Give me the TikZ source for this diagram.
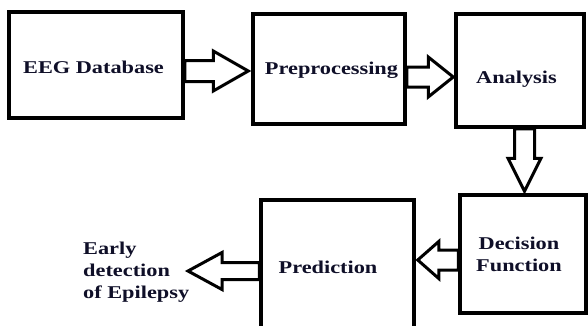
\documentclass[tikz,border=0pt]{standalone}
\usepackage{fontspec}
\usetikzlibrary{calc}
\newfontfamily\lblfont{Liberation Serif}[FakeStretch=1.24]
\definecolor{inkblue}{RGB}{15,15,40}

% block arrow outline: tail, tip, shaft half-width, head half-width, head length
\newcommand\blockarrow[5]{%
  \coordinate (ba-h) at ($(#2)!#5!(#1)$);
  \draw[blockarrowline]
    ($(#1)!#3!90:(#2)$) -- ($(ba-h)!#3!90:(#2)$) -- ($(ba-h)!#4!90:(#2)$) --
    (#2) --
    ($(ba-h)!#4!-90:(#2)$) -- ($(ba-h)!#3!-90:(#2)$) -- ($(#1)!#3!-90:(#2)$) -- cycle;}

\tikzset{
  stagebox/.style={draw=black, line width=3.5pt, inner sep=0pt, fill=white},
  blockarrowline/.style={draw=black, line width=3pt, fill=white, line join=miter},
  lbl/.style={font=\lblfont\bfseries\fontsize{18}{22}\selectfont, text=inkblue, inner sep=0pt},
}

\begin{document}
\begin{tikzpicture}[x=1pt, y=-1pt]
  \clip (0,0) rectangle (588,325);
  \fill[white] (0,0) rectangle (588,325);

  % processing stages
  \node[stagebox, minimum width=174pt, minimum height=106pt] (eeg)  at (96,65)    {};
  \node[stagebox, minimum width=152pt, minimum height=110pt] (pre)  at (329,69)   {};
  \node[stagebox, minimum width=128pt, minimum height=113pt] (ana)  at (520,70.5) {};
  \node[stagebox, minimum width=126pt, minimum height=118pt] (dec)  at (523,254)  {};
  \node[stagebox, minimum width=153pt, minimum height=132pt] (pred) at (337.5,266) {};

  % connector end points
  \coordinate (a1s) at ($(eeg.east)+(0,6)$);
  \coordinate (a1e) at ($(a1s -| pre.west)+(-3,0)$);
  \coordinate (a2s) at ($(pre.east)+(0,8)$);
  \coordinate (a2e) at ($(a2s -| ana.west)+(-1,0)$);
  \coordinate (a3s) at ($(ana.south)+(4.5,0)$);
  \coordinate (a3e) at ($(a3s |- dec.north)+(0,-2)$);
  \coordinate (a4s) at ($(dec.west)+(0,6)$);
  \coordinate (a4e) at ($(a4s -| pred.east)+(2,0)$);
  \coordinate (a5s) at ($(pred.west)+(0,5)$);
  \coordinate (a5e) at (188,271);

  % block arrows
  \blockarrow{a1s}{a1e}{10.5pt}{20pt}{35pt}
  \blockarrow{a2s}{a2e}{10pt}{20pt}{25pt}
  \blockarrow{a3s}{a3e}{10pt}{16.5pt}{33pt}
  \blockarrow{a4s}{a4e}{10pt}{18.5pt}{21pt}
  \blockarrow{a5s}{a5e}{8.5pt}{18.5pt}{34pt}

  % stage labels
  \node[lbl, anchor=base] (teeg)  at ($(eeg.center)+(-2.5,8.5)$)  {EEG Database};
  \node[lbl, anchor=base] (tpre)  at ($(pre.center)+(2.5,5)$)     {Preprocessing};
  \node[lbl, anchor=base] (tana)  at ($(ana.center)+(-3.5,12.5)$) {Analysis};
  \node[lbl, anchor=base] (tdec1) at ($(dec.center)+(-4,-4.5)$)   {Decision};
  \node[lbl, anchor=base] (tdec2) at ($(dec.center)+(-4,17)$)     {Function};
  \node[lbl, anchor=base] (tpred) at ($(pred.center)+(-9.5,7)$)   {Prediction};

  % outcome text
  \node[lbl, anchor=base west] (out1) at (83,254.5) {Early};
  \node[lbl, anchor=base west] (out2) at (out1.base west |- 0,276.5) {detection};
  \node[lbl, anchor=base west] (out3) at (out1.base west |- 0,298.5) {of Epilepsy};
\end{tikzpicture}
\end{document}
